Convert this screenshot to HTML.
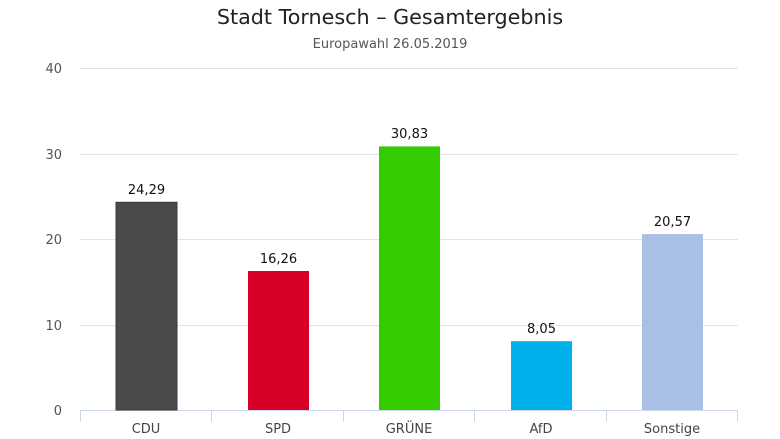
<!DOCTYPE html>
<html><head><meta charset="utf-8"><style>body{margin:0;background:#fff}svg{display:block}</style></head>
<body>
<svg width="780" height="439" viewBox="0 0 780 439" xmlns="http://www.w3.org/2000/svg" font-family="'DejaVu Sans','Liberation Sans',sans-serif">
<text x="390" y="24" text-anchor="middle" font-size="20.7" fill="#222">Stadt Tornesch – Gesamtergebnis</text>
<text x="390" y="48" text-anchor="middle" font-size="13" fill="#555">Europawahl 26.05.2019</text>
<g stroke="#e2e2e2" stroke-width="1">
<line x1="80" x2="738" y1="68.5" y2="68.5"/>
<line x1="80" x2="738" y1="154.5" y2="154.5"/>
<line x1="80" x2="738" y1="239.5" y2="239.5"/>
<line x1="80" x2="738" y1="325.5" y2="325.5"/>
</g>
<g font-size="13" fill="#555" text-anchor="end">
<text x="62" y="73">40</text>
<text x="62" y="159">30</text>
<text x="62" y="244">20</text>
<text x="62" y="330">10</text>
<text x="62" y="415">0</text>
</g>
<g stroke="#ccd6eb" stroke-width="1">
<line x1="80" x2="738" y1="410.5" y2="410.5"/>
<line x1="80.5" x2="80.5" y1="410" y2="422"/>
<line x1="211.5" x2="211.5" y1="410" y2="422"/>
<line x1="343.5" x2="343.5" y1="410" y2="422"/>
<line x1="474.5" x2="474.5" y1="410" y2="422"/>
<line x1="606.5" x2="606.5" y1="410" y2="422"/>
<line x1="737.5" x2="737.5" y1="410" y2="422"/>
</g>
<rect x="116" y="202.3" width="61" height="207.7" fill="#4a4a4a" stroke="#3a3a3a"/>
<rect x="248" y="271" width="61" height="139" fill="#d80027"/>
<rect x="379" y="146.4" width="61" height="263.6" fill="#33cc00"/>
<rect x="511" y="341.2" width="61" height="68.8" fill="#00b0eb"/>
<rect x="642" y="234.1" width="61" height="175.9" fill="#a9bfe6"/>
<g font-size="13" fill="#111" text-anchor="middle">
<text x="146.5" y="194">24,29</text>
<text x="278.5" y="263">16,26</text>
<text x="409.5" y="138">30,83</text>
<text x="541.5" y="333">8,05</text>
<text x="672.5" y="226">20,57</text>
</g>
<g font-size="13" fill="#444" text-anchor="middle">
<text x="146" y="433">CDU</text>
<text x="278" y="433">SPD</text>
<text x="409" y="433">GRÜNE</text>
<text x="541" y="433">AfD</text>
<text x="672" y="433">Sonstige</text>
</g>
</svg>
</body></html>
